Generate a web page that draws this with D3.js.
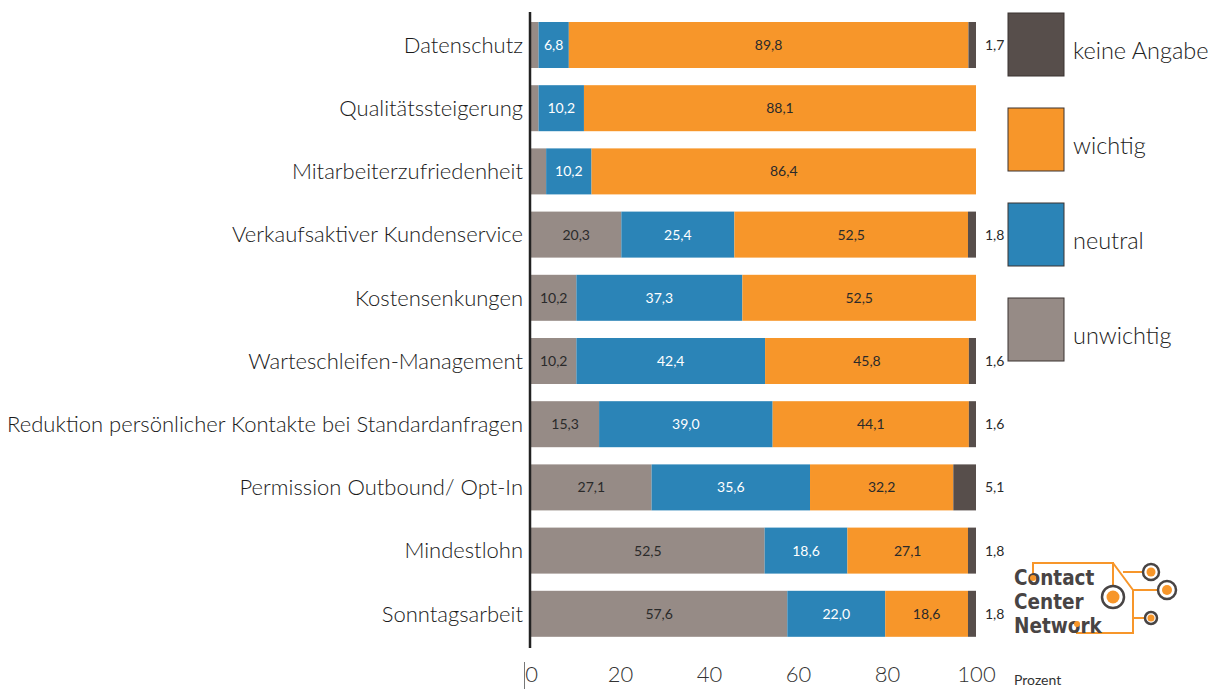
<!DOCTYPE html>
<html>
<head>
<meta charset="utf-8">
<script src="https://cdn.jsdelivr.net/npm/d3@7"></script>
<style>
  html, body { margin: 0; padding: 0; background: #fff; }
  svg { display: block; }
  .logo-text { font-family: "DejaVu Sans", sans-serif; font-stretch: condensed; font-weight: bold; }
</style>
</head>
<body>
<svg id="chart" width="1219" height="689"></svg>
<script>
// Survey: importance of topics in customer service (percent of answers)
const categories = [
  "Datenschutz",
  "Qualitätssteigerung",
  "Mitarbeiterzufriedenheit",
  "Verkaufsaktiver Kundenservice",
  "Kostensenkungen",
  "Warteschleifen-Management",
  "Reduktion persönlicher Kontakte bei Standardanfragen",
  "Permission Outbound/ Opt-In",
  "Mindestlohn",
  "Sonntagsarbeit"
];
const unwichtig   = [1.7, 1.7, 3.4, 20.3, 10.2, 10.2, 15.3, 27.1, 52.5, 57.6];
const neutral     = [6.8, 10.2, 10.2, 25.4, 37.3, 42.4, 39.0, 35.6, 18.6, 22.0];
const wichtig     = [89.8, 88.1, 86.4, 52.5, 52.5, 45.8, 44.1, 32.2, 27.1, 18.6];
const keineAngabe = [1.7, 0, 0, 1.8, 0, 1.6, 1.6, 5.1, 1.8, 1.8];
// segments that carry a printed value inside the bar
const showUnwichtig = [false, false, false, true, true, true, true, true, true, true];
const seriesNames = ["unwichtig", "neutral", "wichtig", "keine Angabe"];
const legendOrder = ["keine Angabe", "wichtig", "neutral", "unwichtig"];
const xTicks = [0, 20, 40, 60, 80, 100];
const axisUnit = "Prozent";
const logoLines = ["Contact", "Center", "Network"];

const colors = {
  "unwichtig": "#968b86",
  "neutral": "#2b84b7",
  "wichtig": "#f7962a",
  "keine Angabe": "#574e4b"
};
const labelColors = {
  "unwichtig": "#2a2a2a",
  "neutral": "#ffffff",
  "wichtig": "#2a2a2a"
};

const fmt = v => v.toFixed(1).replace(".", ",");

const rows = categories.map((c, i) => ({
  cat: c,
  "unwichtig": unwichtig[i],
  "neutral": neutral[i],
  "wichtig": wichtig[i],
  "keine Angabe": keineAngabe[i],
  showU: showUnwichtig[i]
}));
const stacked = d3.stack().keys(seriesNames)(rows);

const svg = d3.select("#chart");
const font = "Lato, 'Open Sans', sans-serif";

const x = d3.scaleLinear().domain([0, 100]).range([531, 976]);
const y = d3.scaleBand().domain(categories).range([13.4, 645.4])
  .paddingInner(0.272).paddingOuter(0.136);

// stacked bars
const layers = svg.append("g").selectAll("g")
  .data(stacked).join("g")
  .attr("fill", d => colors[d.key]);

layers.selectAll("rect")
  .data(d => d.map(p => ({ p, key: d.key })))
  .join("rect")
  .attr("x", d => x(d.p[0]))
  .attr("width", d => Math.max(0, x(d.p[1]) - x(d.p[0])))
  .attr("y", d => y(d.p.data.cat))
  .attr("height", y.bandwidth());

// values inside the segments
const inner = [];
stacked.forEach(layer => {
  if (layer.key === "keine Angabe") return;
  layer.forEach(p => {
    const v = p.data[layer.key];
    if (layer.key === "unwichtig" && !p.data.showU) return;
    inner.push({ key: layer.key, v, cx: (x(p[0]) + x(p[1])) / 2, cat: p.data.cat });
  });
});
svg.append("g").selectAll("text")
  .data(inner).join("text")
  .attr("x", d => d.cx)
  .attr("y", d => y(d.cat) + y.bandwidth() / 2)
  .attr("dy", "0.35em")
  .attr("text-anchor", "middle")
  .attr("font-family", font)
  .attr("font-size", 14)
  .attr("fill", d => labelColors[d.key])
  .text(d => fmt(d.v));

// "keine Angabe" values beside the bar end
svg.append("g").selectAll("text")
  .data(rows.filter(r => r["keine Angabe"] > 0)).join("text")
  .attr("x", x(100) + 9)
  .attr("y", d => y(d.cat) + y.bandwidth() / 2)
  .attr("dy", "0.35em")
  .attr("font-family", font)
  .attr("font-size", 14)
  .attr("fill", "#2a2a2a")
  .text(d => fmt(d["keine Angabe"]));

// category labels
svg.append("g").selectAll("text")
  .data(categories).join("text")
  .attr("x", 523)
  .attr("y", d => y(d) + y.bandwidth() / 2)
  .attr("dy", "0.35em")
  .attr("text-anchor", "end")
  .attr("font-family", font)
  .attr("font-weight", 300)
  .attr("font-size", 22)
  .attr("fill", "#1a1a1a")
  .text(d => d);

// vertical baseline
svg.append("line")
  .attr("x1", 530).attr("x2", 530)
  .attr("y1", 12).attr("y2", 648)
  .attr("stroke", "#222").attr("stroke-width", 2.5);

// x axis tick labels
const xAxis = d3.axisBottom(x).tickValues(xTicks).tickSize(0).tickPadding(0)
  .tickFormat(d => d);
const gx = svg.append("g").attr("transform", "translate(0,666)").call(xAxis);
gx.select(".domain").remove();
gx.selectAll("text")
  .attr("font-family", font)
  .attr("font-weight", 300)
  .attr("font-size", 22)
  .attr("fill", "#333")
  .attr("dy", "0.71em");
svg.append("line")
  .attr("x1", 524.5).attr("x2", 524.5)
  .attr("y1", 662).attr("y2", 689)
  .attr("stroke", "#777").attr("stroke-width", 1);
svg.append("text")
  .attr("x", 1014).attr("y", 685)
  .attr("font-family", font)
  .attr("font-size", 14)
  .attr("fill", "#333")
  .text(axisUnit);

// legend
const leg = svg.append("g").selectAll("g")
  .data(legendOrder).join("g")
  .attr("transform", (d, i) => `translate(1008,${13 + i * 95})`);
leg.append("rect")
  .attr("width", 56).attr("height", 63)
  .attr("fill", d => colors[d])
  .attr("stroke", "#3a3330").attr("stroke-width", 1);
leg.append("text")
  .attr("x", 65).attr("y", 38)
  .attr("dy", "0.35em")
  .attr("font-family", font)
  .attr("font-weight", 300)
  .attr("font-size", 23.5)
  .attr("fill", "#222")
  .text(d => d);

// Contact Center Network logo
const logo = svg.append("g");
const orange = "#f7962a", ink = "#484444";
const wire = d3.line();
const wires = [
  [[1033, 578], [1033, 563], [1113, 563], [1113, 597]],
  [[1113, 563], [1133, 590], [1133, 633], [1077, 633], [1077, 624]],
  [[1123, 572], [1151, 572]],
  [[1133, 590], [1166, 590]],
  [[1133, 618], [1151, 618]]
];
logo.selectAll("path.wire").data(wires).join("path")
  .attr("class", "wire")
  .attr("d", wire)
  .attr("fill", "none")
  .attr("stroke", orange)
  .attr("stroke-width", 2);
logo.selectAll("text").data(logoLines).join("text")
  .attr("class", "logo-text")
  .attr("x", 1014)
  .attr("y", (d, i) => 585 + i * 24)
  .attr("font-size", 20.5)
  .attr("fill", ink)
  .text(d => d);
const nodes = [
  { cx: 1113, cy: 597, r: 11, ri: 6.5 },
  { cx: 1151, cy: 572, r: 8, ri: 4.5 },
  { cx: 1167, cy: 590, r: 9, ri: 5 },
  { cx: 1151, cy: 618, r: 6, ri: 3.5 }
];
logo.selectAll("circle.ring").data(nodes).join("circle")
  .attr("class", "ring")
  .attr("cx", d => d.cx).attr("cy", d => d.cy).attr("r", d => d.r)
  .attr("fill", "#fff").attr("stroke", ink).attr("stroke-width", 2.5);
logo.selectAll("circle.dot").data(nodes).join("circle")
  .attr("class", "dot")
  .attr("cx", d => d.cx).attr("cy", d => d.cy).attr("r", d => d.ri)
  .attr("fill", orange);
logo.selectAll("circle.pin").data([[1033, 578], [1077, 624]]).join("circle")
  .attr("class", "pin")
  .attr("cx", d => d[0]).attr("cy", d => d[1]).attr("r", 3)
  .attr("fill", orange);
</script>
</body>
</html>
